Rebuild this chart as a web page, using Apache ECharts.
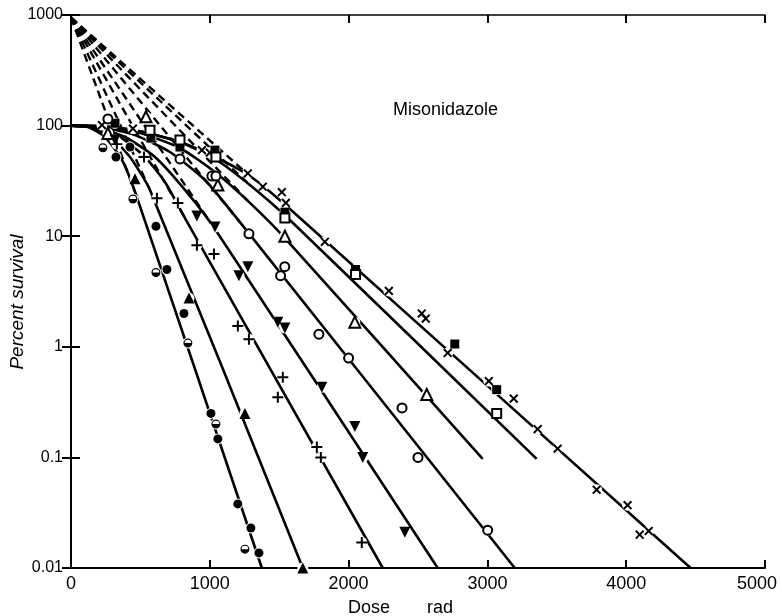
<!DOCTYPE html>
<html>
<head>
<meta charset="utf-8">
<script src="https://cdn.jsdelivr.net/npm/echarts@6/dist/echarts.min.js"></script>
<style>
  html, body { margin: 0; padding: 0; background: #fff; }
  #chart { width: 782px; height: 616px; }
</style>
</head>
<body>
<div id="chart"></div>
<script>
// tick labels
var doseTicks = ['0', '1000', '2000', '3000', '4000', '5000'];
var survivalTicks = ['0.01', '0.1', '1', '10', '100', '1000'];

// fitted curves: [dose rad, percent survival]
var curveHypoxic   = [[0,100],[209,99],[497,89],[785,71],[1037,52],[1289,35],[1577,17.6],[4464,0.01]];
var curveOpenSq    = [[0,100],[209,99],[497,89],[785,71],[1037,49.9],[1289,29],[1577,14],[3355,0.097]];
var curveOpenTri   = [[0,100],[209,97],[497,85.7],[785,62.7],[1037,38],[1289,20],[1541,9.6],[2966,0.097]];
var curveOpenCirc  = [[0,100],[209,97],[461,82],[713,57.7],[965,32.2],[1217,13.4],[3197,0.01]];
var curveDownTri   = [[0,100],[173,97],[389,78.9],[605,52],[821,26.2],[1037,11.6],[2642,0.01]];
var curvePlus      = [[0,100],[173,97],[353,78.9],[533,52],[677,30.9],[821,14.6],[2246,0.01]];
var curveFilledTri = [[0,100],[137,97],[281,80.5],[425,52],[569,26.2],[1670,0.01]];
var curveAerobic   = [[0,100],[122,97],[245,78.9],[367,48.9],[482,21.2],[1375,0.01]];

// dashed back-extrapolations to zero dose
var extrapStart = [0, 950];
var extrapEnds = [[1289,35],[1289,29],[1289,20],[1217,13.4],[1037,11.6],[821,14.6],[569,26.2],[482,21.2]];

// measured points
var ptsHypoxic = [[223,101],[446,94],[943,60],[1000,57],[1274,37],[1382,28],[1519,25],[1548,20],[1829,8.9],[2290,3.2],[2527,2.0],[2556,1.8],[2714,0.88],[3010,0.49],[3190,0.34],[3362,0.18],[3506,0.12],[3787,0.051],[4010,0.037],[4097,0.020],[4162,0.0216]];
var ptsFilledSq = [[317,105],[576,77],[785,64],[1037,60],[1541,16.5],[2050,5.0],[2765,1.06],[3067,0.41]];
var ptsOpenSq = [[569,91],[785,74],[1044,52],[1541,14.6],[2050,4.5],[3067,0.25]];
var ptsOpenTri = [[266,85],[540,120],[1058,29],[1541,10],[2045,1.67],[2563,0.37]];
var ptsOpenCirc = [[266,115],[785,50],[1015,35],[1044,35],[1282,10.5],[1510,4.4],[1540,5.3],[1786,1.3],[2000,0.79],[2385,0.28],[2500,0.10],[3002,0.022]];
var ptsDownTri = [[317,74],[907,15.2],[1037,12.1],[1210,4.4],[1274,5.3],[1490,1.67],[1541,1.48],[1807,0.43],[2045,0.19],[2102,0.10],[2405,0.021]];
var ptsPlus = [[330,68],[526,52],[619,22],[770,20],[907,8.3],[1030,6.9],[1202,1.54],[1282,1.17],[1490,0.35],[1526,0.53],[1771,0.124],[1800,0.10],[2095,0.017]];
var ptsFilledTri = [[461,33],[850,2.76],[1253,0.25],[1670,0.01]];
var ptsFilledCirc = [[324,52],[425,64],[612,12.3],[691,5.0],[814,2.0],[1008,0.25],[1058,0.147],[1202,0.038],[1296,0.023],[1354,0.0137]];
var ptsHalfCirc = [[230,63],[446,21.7],[612,4.7],[842,1.08],[1044,0.20],[1253,0.0148]];

var FONT = '"Liberation Sans", Arial, Helvetica, sans-serif';
var plusPath = 'path://M4.1,0h1.8v4.1h4.1v1.8h-4.1v4.1h-1.8v-4.1h-4.1v-1.8h4.1z';
var halfCircPath = 'path://M5,0A5,5 0 1,1 5,10A5,5 0 1,1 5,0Z M5,1.3A3.7,3.7 0 1,0 5,8.7A3.7,3.7 0 1,0 5,1.3Z M1.3,5L8.7,5A3.7,3.7 0 0,1 1.3,5Z';

var chart = echarts.init(document.getElementById('chart'), null, {renderer: 'canvas'});

var series = [];
[curveHypoxic, curveOpenSq, curveOpenTri, curveOpenCirc, curveDownTri, curvePlus, curveFilledTri, curveAerobic].forEach(function (c) {
    series.push({
        type: 'line', data: c, symbol: 'none', smooth: 0.2,
        lineStyle: {color: '#000', width: 2.6}, z: 2, silent: true
    });
});
extrapEnds.forEach(function (e) {
    series.push({
        type: 'line', data: [extrapStart, e], symbol: 'none',
        lineStyle: {color: '#000', width: 2.4, type: [8, 5]}, z: 2, silent: true
    });
});

var allPts = [ptsHypoxic, ptsFilledSq, ptsOpenSq, ptsOpenTri, ptsOpenCirc, ptsDownTri, ptsPlus, ptsFilledTri, ptsFilledCirc, ptsHalfCirc];
// white halo under each point so the lines break round the marks, as in the print
allPts.forEach(function (d) {
    series.push({
        type: 'scatter', data: d, symbol: 'circle', symbolSize: 11, z: 4, silent: true,
        itemStyle: {color: '#fff', opacity: 1}
    });
});

function pts(data, symbol, size, opts) {
    var s = {
        type: 'scatter', data: data, symbol: symbol, symbolSize: size, z: 5,
        itemStyle: {color: '#000', borderColor: '#000', borderWidth: 0, opacity: 1}
    };
    for (var k in opts) s[k] = opts[k];
    return s;
}
var hollow = {itemStyle: {color: '#000', borderColor: '#000', borderWidth: 1.6, opacity: 1}};
series.push(pts(ptsHypoxic, plusPath, 11, {symbolRotate: 45}));
series.push(pts(ptsFilledSq, 'rect', 9));
series.push(pts(ptsOpenSq, 'emptyRect', 9, hollow));
series.push(pts(ptsOpenTri, 'emptyTriangle', 11, hollow));
series.push(pts(ptsOpenCirc, 'emptyCircle', 9, hollow));
series.push(pts(ptsDownTri, 'triangle', 11, {symbolRotate: 180}));
series.push(pts(ptsPlus, plusPath, 11));
series.push(pts(ptsFilledTri, 'triangle', 11));
series.push(pts(ptsFilledCirc, 'circle', 9));
series.push(pts(ptsHalfCirc, halfCircPath, 9));

var option = {
    backgroundColor: '#fff',
    animation: false,
    grid: {left: 71, right: 17, top: 15, bottom: 48, containLabel: false, outerBoundsMode: 'none'},
    xAxis: [{
        type: 'value', min: 0, max: 5000, interval: 1000, position: 'bottom',
        axisLine: {lineStyle: {color: '#000', width: 2}},
        axisTick: {inside: true, length: 8, lineStyle: {color: '#000', width: 2}},
        axisLabel: {
            color: '#000', fontSize: 18, fontFamily: FONT, margin: 7,
            showMinLabel: true, showMaxLabel: true,
            formatter: function (v) {
                var t = doseTicks[Math.round(v / 1000)];
                return v >= 5000 ? '{m|' + t + '}' : t;
            },
            rich: {m: {fontSize: 18, fontFamily: FONT, color: '#000', padding: [0, 16, 0, 0]}}
        },
        splitLine: {show: false}
    }, {
        type: 'value', min: 0, max: 5000, interval: 1000, position: 'top',
        axisLine: {lineStyle: {color: '#000', width: 1.5}},
        axisTick: {inside: true, length: 8, lineStyle: {color: '#000', width: 2}},
        axisLabel: {show: false},
        splitLine: {show: false}
    }],
    yAxis: [{
        type: 'log', logBase: 10, min: 0.01, max: 1000, position: 'left',
        axisLine: {lineStyle: {color: '#000', width: 2}},
        axisTick: {inside: true, length: 9, lineStyle: {color: '#000', width: 2}},
        axisLabel: {
            color: '#000', fontSize: 16, fontFamily: FONT, margin: 8,
            showMinLabel: true, showMaxLabel: true,
            formatter: function (v) { return survivalTicks[Math.round(Math.log10(v)) + 2]; }
        },
        minorTick: {show: false},
        splitLine: {show: false}
    }, {
        type: 'log', logBase: 10, min: 0.01, max: 1000, position: 'right',
        axisLine: {lineStyle: {color: '#000', width: 1.5}},
        axisTick: {inside: true, length: 9, lineStyle: {color: '#000', width: 2}},
        axisLabel: {show: false},
        splitLine: {show: false}
    }],
    graphic: [
        {type: 'text', x: 393, y: 110, style: {text: 'Misonidazole', fill: '#000', font: '18px ' + FONT, textVerticalAlign: 'middle'}},
        {type: 'text', x: 348, y: 608, style: {text: 'Dose', fill: '#000', font: '18px ' + FONT, textVerticalAlign: 'middle'}},
        {type: 'text', x: 427, y: 608, style: {text: 'rad', fill: '#000', font: '18px ' + FONT, textVerticalAlign: 'middle'}},
        {type: 'text', x: 18, y: 302, rotation: Math.PI / 2, style: {text: 'Percent survival', fill: '#000', font: 'italic 19px ' + FONT, textAlign: 'center', textVerticalAlign: 'middle'}}
    ],
    series: series
};
chart.setOption(option);
</script>
</body>
</html>
